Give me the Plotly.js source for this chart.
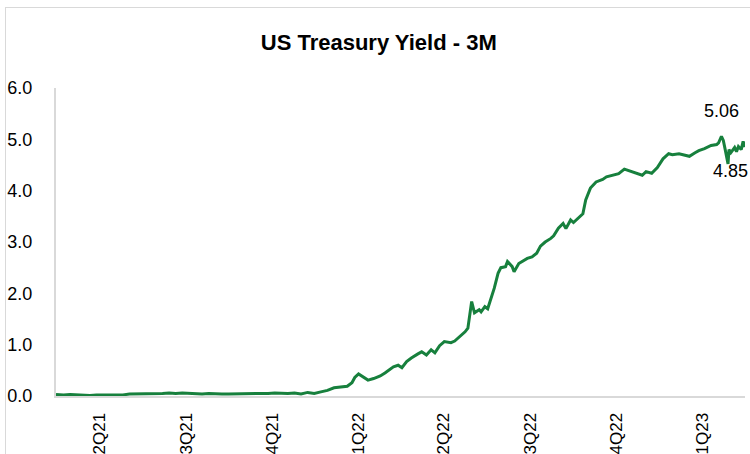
<!DOCTYPE html>
<html>
<head>
<meta charset="utf-8">
<script src="https://cdn.plot.ly/plotly-3.0.1.min.js"></script>
<style>
  html, body { margin: 0; padding: 0; background: #fff; }
  #chart { width: 750px; height: 454px; }
  #frame { position: absolute; left: 5px; top: 7px; width: 800px; height: 500px;
           border-left: 1px solid #d9d9d9; border-top: 1px solid #d9d9d9; pointer-events: none; }
</style>
</head>
<body>
<div id="chart"></div>
<div id="frame"></div>
<script>
const dates = [
  '2021-03-30','2021-04-07','2021-04-14','2021-04-21','2021-04-28','2021-05-05','2021-05-12','2021-05-19','2021-05-26',
  '2021-06-02','2021-06-09','2021-06-16','2021-06-23','2021-06-30','2021-07-07','2021-07-14','2021-07-21','2021-07-28',
  '2021-08-04','2021-08-11','2021-08-18','2021-08-25','2021-09-01','2021-09-08','2021-09-15','2021-09-22','2021-09-29',
  '2021-10-06','2021-10-13','2021-10-20','2021-10-27','2021-11-03','2021-11-10','2021-11-17','2021-11-24','2021-12-01',
  '2021-12-08','2021-12-15','2021-12-22','2021-12-29',
  '2022-01-05','2022-01-12','2022-01-19','2022-01-26','2022-02-02','2022-02-07','2022-02-10','2022-02-14','2022-02-18',
  '2022-02-24','2022-03-02','2022-03-09','2022-03-14','2022-03-18','2022-03-23','2022-03-28','2022-04-01','2022-04-06',
  '2022-04-11','2022-04-18','2022-04-22','2022-04-27','2022-05-02','2022-05-06','2022-05-11','2022-05-16','2022-05-23',
  '2022-05-27','2022-06-02','2022-06-07','2022-06-10','2022-06-14','2022-06-17','2022-06-22','2022-06-24','2022-06-28',
  '2022-07-01','2022-07-06','2022-07-08','2022-07-12','2022-07-15','2022-07-20','2022-07-22','2022-07-27','2022-07-29',
  '2022-08-03','2022-08-08','2022-08-12','2022-08-17','2022-08-22','2022-08-26','2022-08-31','2022-09-06','2022-09-09',
  '2022-09-14','2022-09-19','2022-09-22','2022-09-27','2022-09-30','2022-10-05','2022-10-10','2022-10-13','2022-10-18',
  '2022-10-24','2022-10-31','2022-11-04','2022-11-10','2022-11-17','2022-11-23','2022-11-30','2022-12-06','2022-12-12',
  '2022-12-16','2022-12-22','2022-12-28',
  '2023-01-03','2023-01-09','2023-01-13','2023-01-20','2023-01-26','2023-01-31','2023-02-06','2023-02-10','2023-02-16',
  '2023-02-23','2023-03-01','2023-03-03','2023-03-06','2023-03-08','2023-03-10','2023-03-13','2023-03-14','2023-03-16',
  '2023-03-20','2023-03-22','2023-03-24','2023-03-27','2023-03-29','2023-03-31'
];
const yields = [
  0.03,0.02,0.03,0.02,0.02,0.01,0.02,0.02,0.01,
  0.02,0.02,0.04,0.04,0.05,0.05,0.04,0.05,0.06,
  0.05,0.06,0.05,0.05,0.04,0.05,0.04,0.04,0.04,
  0.04,0.05,0.05,0.05,0.05,0.05,0.06,0.05,0.05,
  0.06,0.04,0.07,0.05,
  0.08,0.11,0.16,0.17,0.19,0.26,0.36,0.43,0.38,
  0.31,0.34,0.39,0.45,0.50,0.57,0.60,0.55,0.67,
  0.74,0.82,0.86,0.80,0.90,0.84,0.98,1.06,1.04,
  1.07,1.16,1.25,1.32,1.84,1.62,1.68,1.64,1.74,
  1.70,1.97,2.10,2.39,2.50,2.52,2.62,2.52,2.42,
  2.58,2.64,2.68,2.71,2.78,2.92,3.00,3.07,3.12,
  3.27,3.36,3.26,3.43,3.38,3.46,3.55,3.82,4.05,
  4.17,4.22,4.27,4.30,4.33,4.42,4.37,4.34,4.30,
  4.37,4.34,4.45,
  4.62,4.72,4.70,4.72,4.70,4.67,4.74,4.78,4.82,
  4.88,4.90,4.93,5.06,4.98,4.80,4.52,4.80,4.74,
  4.84,4.76,4.86,4.80,4.96,4.85
];
const tickDates = ['2021-05-15','2021-08-15','2021-11-15','2022-02-14','2022-05-15','2022-08-15','2022-11-15','2023-02-14'];
const tickLabels = ['2Q21','3Q21','4Q21','1Q22','2Q22','3Q22','4Q22','1Q23'];
const yTicks = [0,1,2,3,4,5,6];
const yTickLabels = ['0.0','1.0','2.0','3.0','4.0','5.0','6.0'];
const peakDate = '2023-03-06', peakValue = 5.06;
const lastDate = '2023-03-31', lastValue = 4.85;

const font = 'Arial, "Liberation Sans", sans-serif';
Plotly.newPlot('chart', [{
  x: dates, y: yields, type: 'scatter', mode: 'lines',
  line: {color: '#17803d', width: 3}, hoverinfo: 'skip'
}], {
  width: 750, height: 454,
  margin: {l: 56, r: 5, t: 88, b: 58},
  paper_bgcolor: '#ffffff', plot_bgcolor: '#ffffff',
  showlegend: false,
  title: {text: '<b>US Treasury Yield - 3M</b>', font: {family: font, size: 22, color: '#000'},
          x: 0.505, xanchor: 'center', y: 1 - 42/454, yref: 'container', yanchor: 'middle'},
  xaxis: {type: 'date', range: ['2021-03-30', '2023-03-31'], tickmode: 'array',
          tickvals: tickDates, ticktext: tickLabels, tickangle: -90,
          showgrid: false, zeroline: false, showline: true, linecolor: '#d9d9d9', linewidth: 2,
          ticks: '', ticklabelstandoff: 8,
          tickfont: {family: font, size: 17, color: '#000'}},
  yaxis: {range: [0, 6], tickmode: 'array', tickvals: yTicks, ticktext: yTickLabels,
          showgrid: false, zeroline: false, showline: true, linecolor: '#d9d9d9', linewidth: 2,
          ticks: '', ticklabelstandoff: 18,
          tickfont: {family: font, size: 18, color: '#000'}},
  annotations: [
    {x: peakDate, y: peakValue, text: peakValue.toFixed(2), showarrow: false,
     xshift: 0, yshift: 25, font: {family: font, size: 18, color: '#000'}},
    {x: lastDate, y: lastValue, text: lastValue.toFixed(2), showarrow: false,
     xshift: -15, yshift: -24, font: {family: font, size: 18, color: '#000'}}
  ]
}, {displayModeBar: false, staticPlot: true});
</script>
</body>
</html>
